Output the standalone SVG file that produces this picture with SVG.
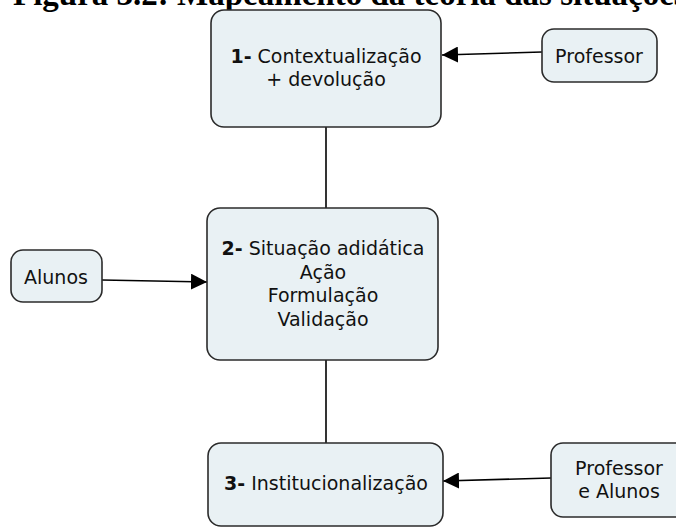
<svg xmlns="http://www.w3.org/2000/svg" width="676" height="527" viewBox="0 0 676 527">
<defs>
<marker id="arr" markerWidth="16" markerHeight="16" refX="16" refY="8" orient="auto" markerUnits="userSpaceOnUse">
<path d="M0,0 L16,8 L0,16 Z" fill="#000"/>
</marker>
<style>
.box{fill:#e9f1f4;stroke:#2b2b2b;stroke-width:1.6}
.t{font-family:"DejaVu Sans",Verdana,sans-serif;font-size:19px;fill:#111;text-anchor:middle}
.b{font-weight:bold}
.c{stroke:#000;stroke-width:1.6;fill:none}
.title{font-family:"Liberation Serif","Times New Roman",serif;font-weight:bold;font-size:33px;fill:#000}
</style>
</defs>
<rect width="676" height="527" fill="#fff"/>
<text class="title" x="13" y="5">Figura 3.2: Mapeamento da teoria das situações</text>
<g id="connectors">
<line class="c" x1="326" y1="127" x2="326" y2="209"/>
<line class="c" x1="326" y1="360" x2="326" y2="443"/>
<line class="c" x1="542" y1="52" x2="442" y2="55" marker-end="url(#arr)"/>
<line class="c" x1="102" y1="280" x2="207" y2="282" marker-end="url(#arr)"/>
<line class="c" x1="551" y1="478" x2="443" y2="481" marker-end="url(#arr)"/>
</g>
<g id="n1">
<rect class="box" x="211" y="10" width="230" height="117" rx="13"/>
<text class="t" x="326" y="63"><tspan class="b">1-</tspan> Contextualização</text>
<text class="t" x="326" y="86">+ devolução</text>
</g>
<g id="professor">
<rect class="box" x="542" y="29" width="115" height="53" rx="12"/>
<text class="t" x="599" y="63">Professor</text>
</g>
<g id="n2">
<rect class="box" x="207" y="208" width="231" height="152" rx="13"/>
<text class="t" x="323" y="255"><tspan class="b">2-</tspan> Situação adidática</text>
<text class="t" x="323" y="279">Ação</text>
<text class="t" x="323" y="302">Formulação</text>
<text class="t" x="323" y="326">Validação</text>
</g>
<g id="alunos">
<rect class="box" x="11" y="250" width="91" height="52" rx="12"/>
<text class="t" x="56" y="284">Alunos</text>
</g>
<g id="n3">
<rect class="box" x="208" y="443" width="235" height="83" rx="13"/>
<text class="t" x="326" y="490"><tspan class="b">3-</tspan> Institucionalização</text>
</g>
<g id="profalunos">
<rect class="box" x="551" y="443" width="140" height="74" rx="12"/>
<text class="t" x="619" y="475">Professor</text>
<text class="t" x="619" y="498">e Alunos</text>
</g>
</svg>
